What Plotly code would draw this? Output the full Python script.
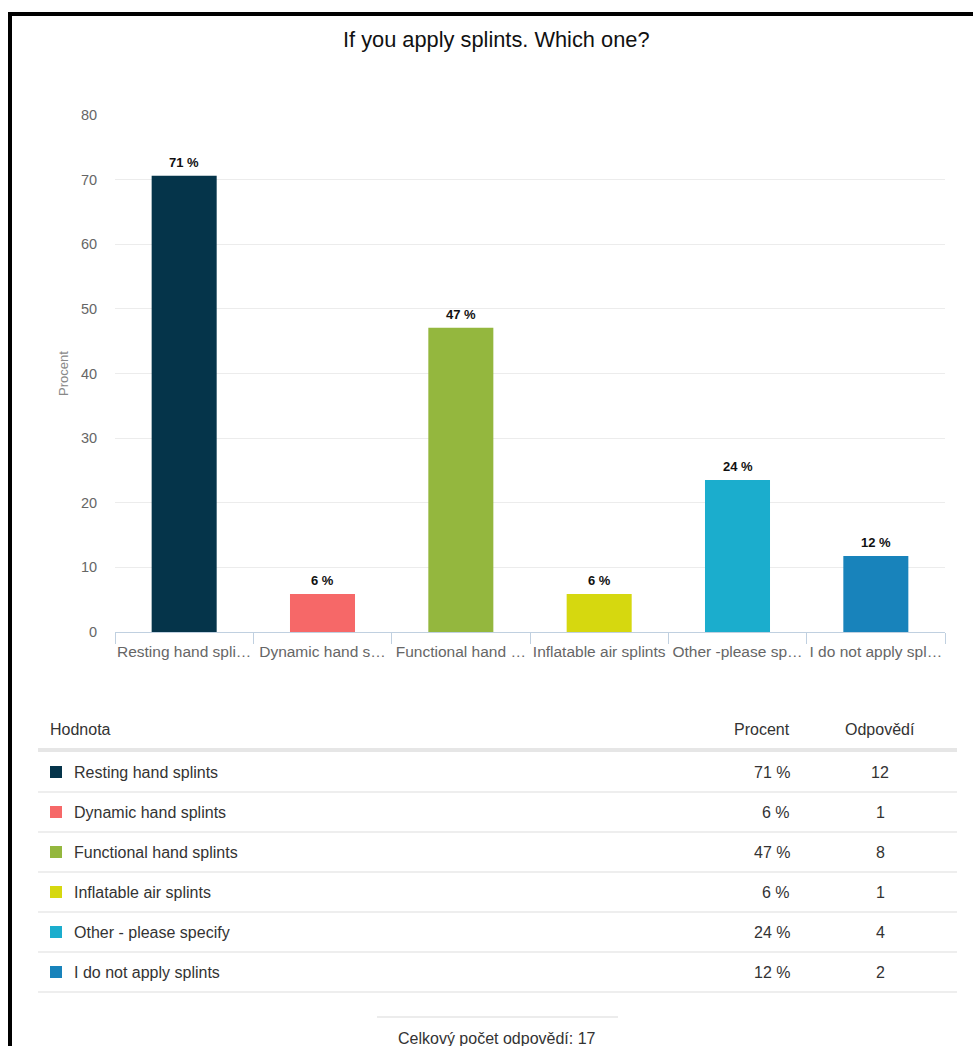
import plotly.graph_objects as go

# ---------------- data ----------------
title_text = "If you apply splints. Which one?"
categories = ["Resting hand splints", "Dynamic hand splints", "Functional hand splints",
              "Inflatable air splints", "Other - please specify", "I do not apply splints"]
tick_labels = ["Resting hand spli…", "Dynamic hand s…", "Functional hand …",
               "Inflatable air splints", "Other -please sp…", "I do not apply spl…"]
percent = [70.59, 5.88, 47.06, 5.88, 23.53, 11.76]
percent_labels = ["71 %", "6 %", "47 %", "6 %", "24 %", "12 %"]
counts = [12, 1, 8, 1, 4, 2]
total_responses = 17
colors = ["#05344a", "#f66868", "#94b73e", "#d6d80f", "#1badcd", "#1883bb"]

# ---------------- geometry helpers (pixel -> paper) ----------------
W, H = 973, 1046
L, R, T, B = 115, 945, 115, 632


def px(x):
    return (x - L) / (R - L)


def py(y):
    return (B - y) / (B - T)


FONT = "Liberation Sans, Arial, sans-serif"
TXT = "#333333"

fig = go.Figure()
fig.add_trace(go.Bar(
    x=tick_labels, y=percent,
    marker=dict(color=colors, line=dict(width=0)),
    width=0.47, hoverinfo="skip", showlegend=False,
))

annotations = []
shapes = []

# value labels above bars
for lab, v, t in zip(tick_labels, percent, percent_labels):
    annotations.append(dict(x=lab, y=v, xref="x", yref="y", text="<b>" + t + "</b>",
                            showarrow=False, yanchor="bottom", yshift=4,
                            font=dict(family=FONT, size=13, color="#111111")))

# title
annotations.append(dict(x=px(496), y=py(39), xref="paper", yref="paper", text=title_text,
                        showarrow=False, xanchor="center", yanchor="middle",
                        font=dict(family=FONT, size=21.8, color="#111111")))

# y axis title
annotations.append(dict(x=px(63), y=py(373), xref="paper", yref="paper", text="Procent",
                        showarrow=False, textangle=-90, xanchor="center", yanchor="middle",
                        font=dict(family=FONT, size=13, color="#888888")))

# ---------------- table ----------------
header_y = 729
annotations.append(dict(x=px(48), y=py(header_y), xref="paper", yref="paper", text="Hodnota",
                        showarrow=False, xanchor="left", yanchor="middle",
                        font=dict(family=FONT, size=16, color=TXT)))
annotations.append(dict(x=px(792), y=py(header_y), xref="paper", yref="paper", text="Procent",
                        showarrow=False, xanchor="right", yanchor="middle",
                        font=dict(family=FONT, size=16, color=TXT)))
annotations.append(dict(x=px(880), y=py(header_y), xref="paper", yref="paper", text="Odpovědí",
                        showarrow=False, xanchor="center", yanchor="middle",
                        font=dict(family=FONT, size=16, color=TXT)))
shapes.append(dict(type="line", xref="paper", yref="paper", x0=px(38), x1=px(957),
                   y0=py(750), y1=py(750), line=dict(color="#e6e6e6", width=4)))

row_h = 40
first_row = 772
for i, (name, t, c, col) in enumerate(zip(categories, percent_labels, counts, colors)):
    yc = first_row + i * row_h
    shapes.append(dict(type="rect", xref="paper", yref="paper", x0=px(50), x1=px(62),
                       y0=py(yc - 6), y1=py(yc + 6), fillcolor=col, line=dict(width=0)))
    annotations.append(dict(x=px(72), y=py(yc), xref="paper", yref="paper", text=name,
                            showarrow=False, xanchor="left", yanchor="middle",
                            font=dict(family=FONT, size=16, color=TXT)))
    annotations.append(dict(x=px(792), y=py(yc), xref="paper", yref="paper", text=t,
                            showarrow=False, xanchor="right", yanchor="middle",
                            font=dict(family=FONT, size=16, color=TXT)))
    annotations.append(dict(x=px(880), y=py(yc), xref="paper", yref="paper", text=str(c),
                            showarrow=False, xanchor="center", yanchor="middle",
                            font=dict(family=FONT, size=16, color=TXT)))
    ly = yc + 20
    shapes.append(dict(type="line", xref="paper", yref="paper", x0=px(38), x1=px(957),
                       y0=py(ly), y1=py(ly), line=dict(color="#e8e8e8", width=1.5)))

# footer
shapes.append(dict(type="line", xref="paper", yref="paper", x0=px(377), x1=px(618),
                   y0=py(1017), y1=py(1017), line=dict(color="#e6e6e6", width=1.5)))
annotations.append(dict(x=px(497), y=py(1038), xref="paper", yref="paper",
                        text="Celkový počet odpovědí: " + str(total_responses),
                        showarrow=False, xanchor="center", yanchor="middle",
                        font=dict(family=FONT, size=16, color=TXT)))

# black frame (left and top)
shapes.append(dict(type="rect", xref="paper", yref="paper", x0=px(8), x1=px(12),
                   y0=py(1046), y1=py(12), fillcolor="black", line=dict(width=0)))
shapes.append(dict(type="rect", xref="paper", yref="paper", x0=px(8), x1=px(973),
                   y0=py(16), y1=py(12), fillcolor="black", line=dict(width=0)))

fig.update_layout(
    width=W, height=H, autosize=False,
    margin=dict(l=L, r=W - R, t=T, b=H - B, pad=0, autoexpand=False),
    paper_bgcolor="white", plot_bgcolor="white",
    annotations=annotations, shapes=shapes,
    bargap=0.53,
    font=dict(family=FONT),
)
fig.update_xaxes(
    showgrid=False, showline=True, linecolor="#c0d0e0", linewidth=1,
    ticks="outside", ticklen=11, tickcolor="#c0d0e0", tickwidth=1,
    tickson="boundaries", tickangle=0, ticklabelstandoff=5,
    tickfont=dict(family=FONT, size=15.5, color="#666666"),
    fixedrange=True,
)
fig.update_yaxes(
    range=[0, 80], dtick=10, tick0=0, showgrid=True, gridcolor="#ececec", gridwidth=1,
    zeroline=False, showline=False, ticks="outside", ticklen=14,
    tickcolor="rgba(0,0,0,0)", tickfont=dict(family=FONT, size=14.5, color="#666666"),
    fixedrange=True,
)

fig.write_html("out.html", config={"responsive": False, "displayModeBar": False})
